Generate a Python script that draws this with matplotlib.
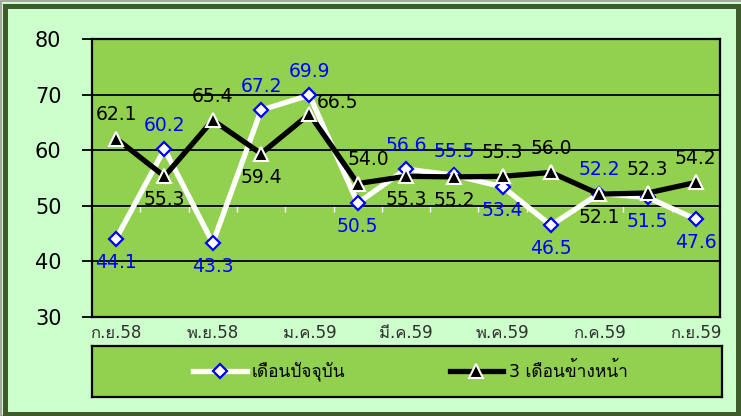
import matplotlib
matplotlib.use("Agg")
import matplotlib.pyplot as plt
import numpy as np
from matplotlib import font_manager
from matplotlib.patches import Rectangle

# Monthly index, Sep 2015 (B.E. 2558) .. Sep 2016 (B.E. 2559)
months = ["ก.ย.58", "ต.ค.58", "พ.ย.58", "ธ.ค.58", "ม.ค.59", "ก.พ.59", "มี.ค.59",
          "เม.ย.59", "พ.ค.59", "มิ.ย.59", "ก.ค.59", "ส.ค.59", "ก.ย.59"]
current = [44.1, 60.2, 43.3, 67.2, 69.9, 50.5, 56.6, 55.5, 53.4, 46.5, 52.2, 51.5, 47.6]
ahead = [62.1, 55.3, 65.4, 59.4, 66.5, 54.0, 55.3, 55.2, 55.3, 56.0, 52.1, 52.3, 54.2]
series_names = ["เดือนปัจจุบัน", "3 เดือนข้างหน้า"]

# label side for each point: a = above, b = below, r = upper right, s = above, nudged right
current_side = "babaabaabbabb"
ahead_side = "ababrsbbaabaa"


def thai_family():
    # first installed font that has Thai glyphs
    for f in font_manager.fontManager.ttflist:
        try:
            if font_manager.get_font(f.fname).get_char_index(0x0E01):
                return f.name
        except Exception:
            continue
    return None


thai = thai_family()
plt.rcParams["font.family"] = ["DejaVu Sans"] + ([thai] if thai else [])

BG = "#CCFFCC"
PLOT_GREEN = "#92D050"
BORDER = "#3D5B2B"
W, H = 741, 416

fig = plt.figure(figsize=(W / 100, H / 100), dpi=100, facecolor=BG)
ax = fig.add_axes([92 / W, 1 - 317 / H, 628 / W, 278 / H])
ax.set_facecolor(PLOT_GREEN)

x = np.arange(len(months))

for y in [40, 50, 60, 70]:
    ax.axhline(y, color="black", lw=1.3, zorder=1)

(l_cur,) = ax.plot(x, current, color="white", lw=3.8, marker="D", ms=7,
                   mfc="white", mec="#0000FF", mew=1.6, zorder=3,
                   label=series_names[0])
(l_ahd,) = ax.plot(x, ahead, color="black", lw=3.8, marker="^", ms=10.5,
                   mfc="black", mec="white", mew=1.5, zorder=4,
                   label=series_names[1])

offsets = {"a": (0, 17), "b": (0, -17), "r": (20, 8), "s": (8, 17)}
for vals, sides, col in [(current, current_side, "#0000FF"), (ahead, ahead_side, "black")]:
    for i, v in enumerate(vals):
        ax.annotate(f"{v:.1f}", (x[i], v), xytext=offsets[sides[i]],
                    textcoords="offset points", ha="center", va="center",
                    fontsize=13.5, color=col, zorder=5)

ax.set_xlim(-0.5, len(months) - 0.5)
ax.set_ylim(30, 80)
ax.set_yticks([30, 40, 50, 60, 70, 80])
ax.tick_params(axis="y", direction="out", length=7, width=1.3, pad=15,
               labelsize=15, colors="black")
ax.set_xticks(x[::2])
ax.set_xticklabels(months[::2])
ax.tick_params(axis="x", length=0, pad=5, labelsize=12, labelcolor="#303030")
for s in ax.spines.values():
    s.set_linewidth(1.6)
    s.set_color("black")

# white category axis crossing at 50 with ticks between months
cat = ax.secondary_xaxis((50 - 30) / (80 - 30))
cat.set_xticks(np.arange(-0.5, len(months), 1))
cat.tick_params(axis="x", direction="out", length=4.5, width=1, colors="white",
                labelbottom=False, labeltop=False)
cat.spines["bottom"].set_color("white")
cat.spines["bottom"].set_linewidth(1)
cat.spines["top"].set_visible(False)

# legend box
leg_ax = fig.add_axes([92 / W, 1 - 397 / H, 630 / W, 51 / H])
leg_ax.set_facecolor(PLOT_GREEN)
leg_ax.set_xticks([])
leg_ax.set_yticks([])
for s in leg_ax.spines.values():
    s.set_linewidth(1.6)
    s.set_color("black")
leg_ax.legend(handles=[l_cur, l_ahd], loc="center", ncol=2, frameon=False,
              fontsize=12.5, handlelength=3.1, handletextpad=0.3,
              columnspacing=6.0, bbox_to_anchor=(0.505, 0.5))

# outer frame of the chart
fig.patches.append(Rectangle((5 / W, 2.5 / H), 1 - 8 / W, 1 - 8 / H,
                             transform=fig.transFigure, fill=False,
                             edgecolor=BORDER, lw=3.6, zorder=10))
fig.patches.append(Rectangle((0.5 / W, 0), 1, 1 - 0.5 / H,
                             transform=fig.transFigure, fill=False,
                             edgecolor="#9A9A9A", lw=1.2, zorder=9))

fig.savefig("out.png", dpi=100, facecolor=BG)
